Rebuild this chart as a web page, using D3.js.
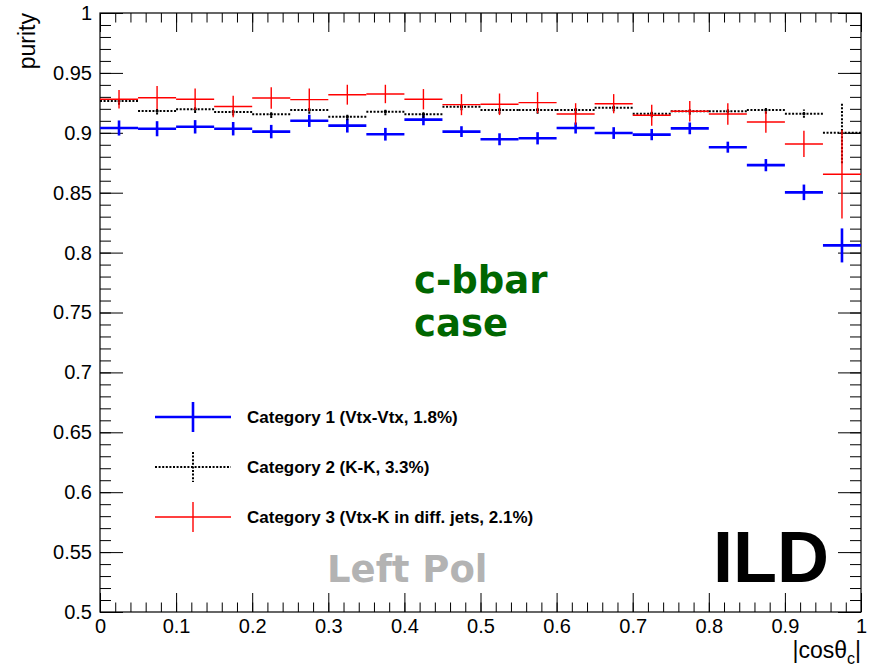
<!DOCTYPE html>
<html>
<head>
<meta charset="utf-8">
<script src="https://cdn.jsdelivr.net/npm/d3@7"></script>
<style>
  body { margin: 0; background: #fff; }
  svg { display: block; }
</style>
</head>
<body>
<div id="chart"></div>
<script>
// Purity vs |cos theta_c| for the three categories, 20 bins of 0.05

const binEdges = d3.range(0, 1.0001, 0.05).map(d => +d.toFixed(2));

const cat1Purity = [0.904, 0.9034, 0.905, 0.9034, 0.901, 0.910, 0.906, 0.8988, 0.911, 0.901,
                    0.8946, 0.8954, 0.904, 0.8998, 0.8985, 0.9037, 0.888, 0.873, 0.8503, 0.806];
const cat1Err    = [0.0063, 0.0063, 0.0056, 0.0056, 0.0056, 0.0051, 0.0058, 0.0053, 0.0047, 0.0045,
                    0.005, 0.0051, 0.0046, 0.0049, 0.0047, 0.0049, 0.0046, 0.0051, 0.0065, 0.0142];

const cat2Purity = [0.9265, 0.9182, 0.9196, 0.9174, 0.9154, 0.919, 0.9134, 0.9176, 0.9154, 0.9218,
                    0.919, 0.919, 0.919, 0.921, 0.916, 0.918, 0.918, 0.919, 0.916, 0.900];
const cat2Err    = [0.003, 0.003, 0.003, 0.003, 0.003, 0.003, 0.003, 0.003, 0.003, 0.003,
                    0.003, 0.003, 0.003, 0.003, 0.003, 0.003, 0.003, 0.003, 0.0035, 0.0255];

const cat3Purity = [0.928, 0.9293, 0.928, 0.922, 0.929, 0.9277, 0.9318, 0.9324, 0.928, 0.9235,
                    0.9238, 0.9252, 0.9157, 0.9243, 0.9146, 0.918, 0.9157, 0.909, 0.8907, 0.8654];
const cat3Err    = [0.0078, 0.0097, 0.009, 0.009, 0.009, 0.0093, 0.0083, 0.0077, 0.0085, 0.0088,
                    0.009, 0.0088, 0.009, 0.008, 0.0088, 0.0085, 0.009, 0.009, 0.011, 0.037];

const seriesLabels = ['Category 1 (Vtx-Vtx, 1.8%)', 'Category 2 (K-K, 3.3%)', 'Category 3 (Vtx-K in diff. jets, 2.1%)'];

const yMajorTicks = [0.5, 0.55, 0.6, 0.65, 0.7, 0.75, 0.8, 0.85, 0.9, 0.95, 1];
const xMajorTicks = [0, 0.1, 0.2, 0.3, 0.4, 0.5, 0.6, 0.7, 0.8, 0.9, 1];

const W = 873, H = 668;
const padL = 100, padR = 861, padT = 13, padB = 612;
const font = '"Liberation Sans", Arial, Helvetica, sans-serif';

const svg = d3.select('#chart').append('svg')
    .attr('width', W)
    .attr('height', H)
    .style('background', '#fff');

const x = d3.scaleLinear().domain([0, 1]).range([padL, padR]);
const y = d3.scaleLinear().domain([0.5, 1]).range([padB, padT]);

const yMinor = d3.range(0.5, 1.0001, 0.01).map(d => +d.toFixed(2));
const xMinor = d3.range(0, 1.0001, 0.02).map(d => +d.toFixed(2));
const fmt = d => String(+d.toFixed(2));

// axes: ticks point inward on all four sides
function styleAxis(g) {
    g.select('.domain').remove();
    g.selectAll('.tick line').attr('stroke', '#000').attr('stroke-width', 1);
    g.selectAll('.tick text')
        .style('font-family', font)
        .style('font-size', '20px')
        .attr('fill', '#000');
}

svg.append('g').attr('transform', `translate(${padL},0)`)
    .call(d3.axisLeft(y).tickValues(yMinor).tickSize(-11).tickFormat(''))
    .call(styleAxis);
svg.append('g').attr('transform', `translate(${padL},0)`)
    .call(d3.axisLeft(y).tickValues(yMajorTicks).tickSize(-23).tickPadding(8).tickFormat(fmt))
    .call(styleAxis);
svg.append('g').attr('transform', `translate(${padR},0)`)
    .call(d3.axisRight(y).tickValues(yMinor).tickSize(-11).tickFormat(''))
    .call(styleAxis);
svg.append('g').attr('transform', `translate(${padR},0)`)
    .call(d3.axisRight(y).tickValues(yMajorTicks).tickSize(-23).tickFormat(''))
    .call(styleAxis);

svg.append('g').attr('transform', `translate(0,${padB})`)
    .call(d3.axisBottom(x).tickValues(xMinor).tickSize(-9.5).tickFormat(''))
    .call(styleAxis);
svg.append('g').attr('transform', `translate(0,${padB})`)
    .call(d3.axisBottom(x).tickValues(xMajorTicks).tickSize(-19).tickPadding(7).tickFormat(fmt))
    .call(styleAxis);
svg.append('g').attr('transform', `translate(0,${padT})`)
    .call(d3.axisTop(x).tickValues(xMinor).tickSize(-9.5).tickFormat(''))
    .call(styleAxis);
svg.append('g').attr('transform', `translate(0,${padT})`)
    .call(d3.axisTop(x).tickValues(xMajorTicks).tickSize(-19).tickFormat(''))
    .call(styleAxis);

// frame
svg.append('rect')
    .attr('x', padL).attr('y', padT)
    .attr('width', padR - padL).attr('height', padB - padT)
    .attr('fill', 'none')
    .attr('stroke', '#000')
    .attr('stroke-width', 1.2);

// axis titles
svg.append('text')
    .attr('transform', `translate(35,${padT}) rotate(-90)`)
    .attr('text-anchor', 'end')
    .style('font-family', font)
    .style('font-size', '23px')
    .text('purity');

const xTitle = svg.append('text')
    .attr('x', padR)
    .attr('y', 658)
    .attr('text-anchor', 'end')
    .style('font-family', font)
    .style('font-size', '23px');
xTitle.append('tspan').text('|cos\u03b8');
xTitle.append('tspan').attr('font-size', '16px').attr('dy', 6).text('c');
xTitle.append('tspan').attr('dy', -6).text('|');

// series styles
const series = [
    { vals: cat1Purity, errs: cat1Err, color: '#0000ff', w: 2.6, dash: null, marker: false },
    { vals: cat2Purity, errs: cat2Err, color: '#000000', w: 2, dash: '2,1.6', marker: true },
    { vals: cat3Purity, errs: cat3Err, color: '#ff0000', w: 1.4, dash: null, marker: false }
];

const plot = svg.append('g');

series.forEach(s => {
    const bins = s.vals.map((v, i) => ({
        lo: binEdges[i], hi: binEdges[i + 1], v: v, e: s.errs[i]
    }));
    const g = plot.append('g');

    g.selectAll('.hbar')
        .data(bins)
        .enter()
        .append('line')
        .attr('x1', d => x(d.lo))
        .attr('x2', d => x(d.hi))
        .attr('y1', d => y(d.v))
        .attr('y2', d => y(d.v))
        .attr('stroke', s.color)
        .attr('stroke-width', s.w)
        .attr('stroke-dasharray', s.dash);

    g.selectAll('.vbar')
        .data(bins)
        .enter()
        .append('line')
        .attr('x1', d => x((d.lo + d.hi) / 2))
        .attr('x2', d => x((d.lo + d.hi) / 2))
        .attr('y1', d => y(d.v - d.e))
        .attr('y2', d => y(Math.min(d.v + d.e, 1)))
        .attr('stroke', s.color)
        .attr('stroke-width', s.w)
        .attr('stroke-dasharray', s.dash);

    if (s.marker) {
        g.selectAll('.dot')
            .data(bins)
            .enter()
            .append('circle')
            .attr('cx', d => x((d.lo + d.hi) / 2))
            .attr('cy', d => y(d.v))
            .attr('r', 1.6)
            .attr('fill', s.color);
    }
});

// legend
const legend = svg.append('g');
series.forEach((s, i) => {
    const ly = 417 + i * 50;
    const row = legend.append('g').attr('transform', `translate(0,${ly})`);
    row.append('line')
        .attr('x1', 155).attr('x2', 231)
        .attr('y1', 0).attr('y2', 0)
        .attr('stroke', s.color)
        .attr('stroke-width', s.w)
        .attr('stroke-dasharray', s.dash);
    row.append('line')
        .attr('x1', 193).attr('x2', 193)
        .attr('y1', -15).attr('y2', 15)
        .attr('stroke', s.color)
        .attr('stroke-width', s.w)
        .attr('stroke-dasharray', s.dash);
    row.append('text')
        .attr('x', 247)
        .attr('y', 6)
        .style('font-family', font)
        .style('font-size', '17px')
        .style('font-weight', 'bold')
        .text(seriesLabels[i]);
});

// annotations
const bold = '"DejaVu Sans", Verdana, sans-serif';
svg.append('text')
    .attr('x', 414).attr('y', 293)
    .style('font-family', bold).style('font-weight', 'bold').style('font-size', '37px')
    .attr('fill', '#006600')
    .text('c-bbar');
svg.append('text')
    .attr('x', 414).attr('y', 336)
    .style('font-family', bold).style('font-weight', 'bold').style('font-size', '37px')
    .attr('fill', '#006600')
    .text('case');
svg.append('text')
    .attr('x', 327).attr('y', 582)
    .style('font-family', bold).style('font-weight', 'bold').style('font-size', '37px')
    .attr('fill', '#b3b3b3')
    .text('Left Pol');
svg.append('text')
    .attr('x', 713).attr('y', 582)
    .style('font-family', font).style('font-weight', 'bold').style('font-size', '72px')
    .attr('fill', '#000')
    .text('ILD');
</script>
</body>
</html>
